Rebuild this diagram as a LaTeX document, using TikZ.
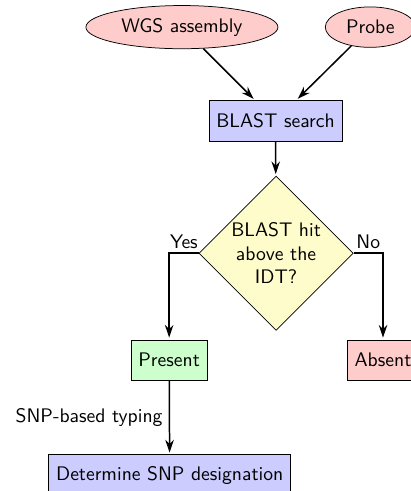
\documentclass[tikz,border=0pt]{standalone}
\usetikzlibrary{shapes.geometric, arrows.meta}

\begin{document}
\begin{tikzpicture}[every node/.style={font=\sffamily\fontsize{10.5}{12.6}\selectfont}, >={Stealth[length=2.4mm, width=1.6mm]},
                    input/.style={ellipse, draw, fill=red!20, minimum height=0.76cm},
                    process/.style={rectangle, draw, fill=blue!20, minimum height=0.76cm, inner xsep=4pt},
                    decision/.style={diamond, draw, fill=yellow!20, align=center, text width=1.75cm, inner sep=0pt, minimum width=2.86cm, minimum height=2.9cm},
                    flow/.style={->, thick, shorten >=1pt}]
                \useasboundingbox (0,0) rectangle (7.71,-9.23);
                \node[input, minimum width=3.61cm] (wgs) at (3.42,-0.51) {WGS assembly};
                \node[input, minimum width=1.69cm] (probe) at (6.96,-0.51) {Probe};
                \node[process] (blast) at (5.18,-2.27) {BLAST search};
                \node[decision] (hit) at (5.19,-4.76) {BLAST hit\\ above the\\ IDT?};
                \node[process, fill=green!20] (present) at (3.18,-6.77) {Present};
                \node[process, fill=red!20] (absent) at (7.20,-6.77) {Absent};
                \node[process] (snp) at (3.19,-8.93) {Determine SNP designation};
                \draw[flow] (wgs) -- (blast);
                \draw[flow] (probe) -- (blast);
                \draw[flow] (blast) -- (hit);
                \draw[flow] (hit.west) -| node[pos=0.25, above, inner sep=2pt] {Yes} (present.north);
                \draw[flow] (hit.east) -| node[pos=0.25, above, inner sep=2pt] {No} (absent.north);
                \draw[flow] (present) -- node[left] {SNP-based typing} (snp);
                \end{tikzpicture}
\end{document}
